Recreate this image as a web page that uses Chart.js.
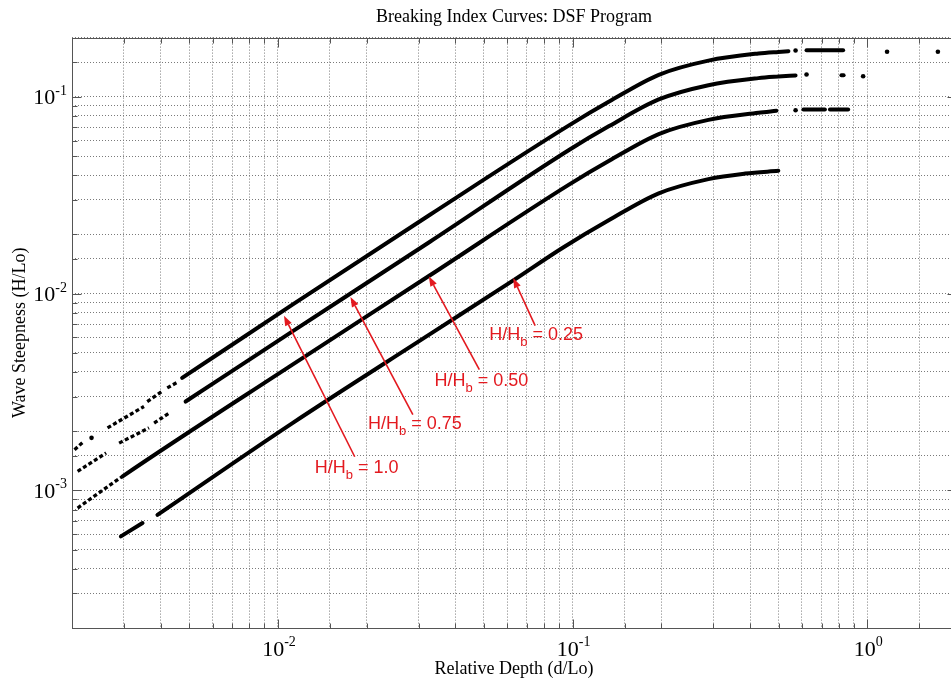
<!DOCTYPE html>
<html>
<head>
<meta charset="utf-8">
<script src="https://cdn.jsdelivr.net/npm/chart.js@4.4.1/dist/chart.umd.min.js"></script>
<style>
html,body{margin:0;padding:0;overflow:hidden;background:#fff;width:951px;height:683px}
#wrap{position:relative;width:960px;height:683px}
</style>
</head>
<body>
<div id="wrap"><canvas id="c"></canvas></div>
<script>
// ---- data (relative depth d/Lo, wave steepness H/Lo); null = gap ----
const seriesNames = ['H/Hb = 1.0', 'H/Hb = 0.75', 'H/Hb = 0.50', 'H/Hb = 0.25'];

const depth100 = [0.00204, 0.00217, null, 0.00233, null, 0.00264, 0.00351, null, 0.00360, 0.00405, null, 0.00421, 0.00455, null, 0.00473, 0.0112, 0.0327, 0.0972, 0.133, 0.196, 0.289, 0.427, 0.499, 0.540, null, 0.571, null, 0.622, 0.828, null, 1.167, null, 1.736];
const steep100 = [0.00161, 0.00175, null, 0.00185, null, 0.00208, 0.00267, null, 0.00283, 0.00319, null, 0.00332, 0.00354, null, 0.00373, 0.00879, 0.0251, 0.0716, 0.0946, 0.1294, 0.1528, 0.1661, 0.1692, 0.1705, null, 0.1720, null, 0.1725, 0.1725, null, 0.1694, null, 0.1694];

const depth075 = [0.00209, 0.00261, null, 0.00289, 0.00365, null, 0.00380, 0.00427, null, 0.00486, 0.0112, 0.0327, 0.0972, 0.133, 0.196, 0.289, 0.427, 0.499, 0.571, null, 0.622, null, 0.817, 0.831, null, 0.968];
const steep075 = [0.00125, 0.00155, null, 0.00174, 0.00208, null, 0.00220, 0.00247, null, 0.00283, 0.00643, 0.0183, 0.0537, 0.0710, 0.0970, 0.1146, 0.1245, 0.1268, 0.1284, null, 0.1299, null, 0.1288, 0.1288, null, 0.1273];

const depth050 = [0.00209, 0.00297, 0.0112, 0.0327, 0.0972, 0.133, 0.196, 0.289, 0.427, 0.4915, null, 0.571, null, 0.607, 0.718, null, 0.747, 0.861];
const steep050 = [0.000814, 0.00118, 0.00436, 0.01236, 0.0358, 0.0473, 0.0647, 0.0764, 0.0830, 0.0850, null, 0.0855, null, 0.0862, 0.0862, null, 0.0862, 0.0862];

const depth025 = [0.00293, 0.00347, null, 0.00390, 0.0112, 0.0327, 0.0629, 0.0923, 0.133, 0.196, 0.289, 0.385, 0.499];
const steep025 = [0.000584, 0.000683, null, 0.000752, 0.00220, 0.00621, 0.01168, 0.01707, 0.02366, 0.03235, 0.0382, 0.04074, 0.04210];

// tick labels: base 10 with exponent
const xTickValues = [0.01, 0.1, 1];
const xTickExponents = ['-2', '-1', '0'];
const yTickValues = [0.001, 0.01, 0.1];
const yTickExponents = ['-3', '-2', '-1'];

// annotation arrows (data coordinates) and their labels
const arrowValues = ['1.0', '0.75', '0.50', '0.25'];
const arrowTipX  = [0.01048, 0.01762, 0.03250, 0.06286];
const arrowTipY  = [0.00773, 0.00962, 0.01225, 0.01202];
const arrowTailX = [0.01822, 0.02869, 0.04824, 0.07460];
const arrowTailY = [0.001483, 0.002425, 0.004108, 0.006877];
const labelX     = [0.01334, 0.02021, 0.03397, 0.05215];
const labelY     = [0.001230, 0.002052, 0.003379, 0.005789];

// ---- styles ----
const SERIF = "'Liberation Serif', 'Times New Roman', serif";
const SANS = "'Liberation Sans', Arial, sans-serif";
const RED = '#e3191f';

const curveDefs = [
  {xs: depth100, ys: steep100, dashBelow: 0.0047},
  {xs: depth075, ys: steep075, dashBelow: 0.0048},
  {xs: depth050, ys: steep050, dashBelow: 0.0029},
  {xs: depth025, ys: steep025, dashBelow: 0}
];

function isolatedRadius(ctx) {
  const d = ctx.dataset.data, i = ctx.dataIndex, p = d[i];
  if (!p || p.y == null) return 0;
  const a = d[i - 1], b = d[i + 1];
  const na = !a || a.y == null, nb = !b || b.y == null;
  return (na && nb) ? 2.3 : 0;
}
function isMajor(v) {
  const e = Math.log10(v);
  return Math.abs(e - Math.round(e)) < 1e-6;
}

const datasets = curveDefs.map((c, n) => {
  const dashed = ctx => c.xs[ctx.p0DataIndex] < c.dashBelow;
  return {
    label: seriesNames[n],
    data: c.xs.map((d, i) => ({x: d, y: c.ys[i]})),
    borderColor: '#000',
    backgroundColor: '#000',
    borderWidth: 4,
    borderCapStyle: 'round',
    pointRadius: isolatedRadius,
    pointBorderWidth: 0,
    pointBackgroundColor: '#000',
    spanGaps: false,
    cubicInterpolationMode: 'monotone',
    segment: {
      borderDash: ctx => (dashed(ctx) ? [4, 2.5] : undefined),
      borderWidth: ctx => (dashed(ctx) ? 3.3 : undefined),
      borderCapStyle: ctx => (dashed(ctx) ? 'butt' : 'round')
    }
  };
});

const framePlugin = {
  id: 'frameTicks',
  afterDraw(chart) {
    const {ctx, chartArea: a, scales: {x, y}} = chart;
    ctx.save();
    ctx.strokeStyle = '#555';
    ctx.lineWidth = 1;
    const L = Math.round(a.left) + 0.5, R = Math.round(a.right) + 0.5;
    const T = Math.round(a.top) + 0.5, B = Math.round(a.bottom) + 0.5;
    ctx.strokeRect(L, T, R - L, B - T);
    ctx.beginPath();
    x.ticks.forEach(t => {
      const px = Math.round(x.getPixelForValue(t.value)) + 0.5;
      const len = isMajor(t.value) ? 9 : 5;
      ctx.moveTo(px, B); ctx.lineTo(px, B - len);
      ctx.moveTo(px, T); ctx.lineTo(px, T + len);
    });
    y.ticks.forEach(t => {
      const py = Math.round(y.getPixelForValue(t.value)) + 0.5;
      const len = isMajor(t.value) ? 9 : 5;
      ctx.moveTo(L, py); ctx.lineTo(L + len, py);
      ctx.moveTo(R, py); ctx.lineTo(R - len, py);
    });
    ctx.stroke();

    // power-of-ten tick labels with superscript exponents
    ctx.fillStyle = '#000';
    ctx.textBaseline = 'alphabetic';
    ctx.textAlign = 'left';
    const baseFont = '22px ' + SERIF, expFont = '14px ' + SERIF;
    xTickValues.forEach((v, k) => {
      const px = x.getPixelForValue(v);
      ctx.font = baseFont; const wb = ctx.measureText('10').width;
      ctx.font = expFont; const we = ctx.measureText(xTickExponents[k]).width;
      const x0 = px - (wb + we) / 2 + 1;
      ctx.font = baseFont; ctx.fillText('10', x0, a.bottom + 28);
      ctx.font = expFont; ctx.fillText(xTickExponents[k], x0 + wb, a.bottom + 18);
    });
    yTickValues.forEach((v, k) => {
      const py = y.getPixelForValue(v);
      ctx.font = baseFont; const wb = ctx.measureText('10').width;
      ctx.font = expFont; const we = ctx.measureText(yTickExponents[k]).width;
      const xe = a.left - 5 - we;
      ctx.font = baseFont; ctx.fillText('10', xe - wb, py + 7.5);
      ctx.font = expFont; ctx.fillText(yTickExponents[k], xe, py - 2);
    });
    ctx.restore();
  }
};

const arrowPlugin = {
  id: 'arrows',
  afterDatasetsDraw(chart) {
    const {ctx, scales: {x, y}} = chart;
    ctx.save();
    arrowValues.forEach((val, i) => {
      const tx = x.getPixelForValue(arrowTipX[i]), ty = y.getPixelForValue(arrowTipY[i]);
      const sx = x.getPixelForValue(arrowTailX[i]), sy = y.getPixelForValue(arrowTailY[i]);
      const ang = Math.atan2(ty - sy, tx - sx);
      const hl = 10, hw = 3.6;
      const cx = Math.cos(ang), cy = Math.sin(ang);
      ctx.strokeStyle = RED; ctx.fillStyle = RED; ctx.lineWidth = 1.6;
      ctx.beginPath();
      ctx.moveTo(sx, sy);
      ctx.lineTo(tx - hl * cx, ty - hl * cy);
      ctx.stroke();
      ctx.beginPath();
      ctx.moveTo(tx, ty);
      ctx.lineTo(tx - hl * cx - hw * cy, ty - hl * cy + hw * cx);
      ctx.lineTo(tx - hl * cx + hw * cy, ty - hl * cy - hw * cx);
      ctx.closePath();
      ctx.fill();
      const lx = x.getPixelForValue(labelX[i]), ly = y.getPixelForValue(labelY[i]);
      ctx.textAlign = 'left'; ctx.textBaseline = 'alphabetic';
      ctx.font = '18px ' + SANS;
      ctx.fillText('H/H', lx, ly);
      let w = ctx.measureText('H/H').width;
      ctx.font = '13px ' + SANS;
      ctx.fillText('b', lx + w, ly + 6);
      w += ctx.measureText('b').width;
      ctx.font = '18px ' + SANS;
      ctx.fillText(' = ' + val, lx + w, ly);
    });
    ctx.restore();
  }
};

new Chart(document.getElementById('c'), {
  type: 'line',
  data: {datasets},
  options: {
    responsive: true,
    maintainAspectRatio: false,
    animation: false,
    events: [],
    layout: {padding: {left: 0, right: 2, top: 0, bottom: 0}},
    plugins: {
      legend: {display: false},
      tooltip: {enabled: false},
      title: {
        display: true,
        text: 'Breaking Index Curves: DSF Program',
        fullSize: false,
        color: '#000',
        font: {family: SERIF, size: 18, weight: 'normal'},
        padding: {top: 6, bottom: 10}
      }
    },
    scales: {
      x: {
        type: 'logarithmic',
        position: 'bottom',
        min: 0.002,
        max: 2,
        grid: {color: '#7a7a7a', lineWidth: 1, drawTicks: false},
        border: {display: false, dash: [1, 2]},
        ticks: {autoSkip: false, maxRotation: 0, minRotation: 0, display: false},
        title: {
          display: true, text: 'Relative Depth (d/Lo)', color: '#000',
          font: {family: SERIF, size: 18, weight: 'normal'},
          padding: {top: 0, bottom: 3}
        },
        afterFit: s => { s.height = 55; }
      },
      y: {
        type: 'logarithmic',
        position: 'left',
        min: 0.0002,
        max: 0.2,
        grid: {color: '#7a7a7a', lineWidth: 1, drawTicks: false},
        border: {display: false, dash: [1, 2]},
        ticks: {autoSkip: false, display: false},
        title: {
          display: true, text: 'Wave Steepness (H/Lo)', color: '#000',
          font: {family: SERIF, size: 18, weight: 'normal'},
          padding: {top: 9, bottom: 0}
        },
        afterFit: s => { s.width = 72; }
      }
    }
  },
  plugins: [arrowPlugin, framePlugin]
});
</script>
</body>
</html>
